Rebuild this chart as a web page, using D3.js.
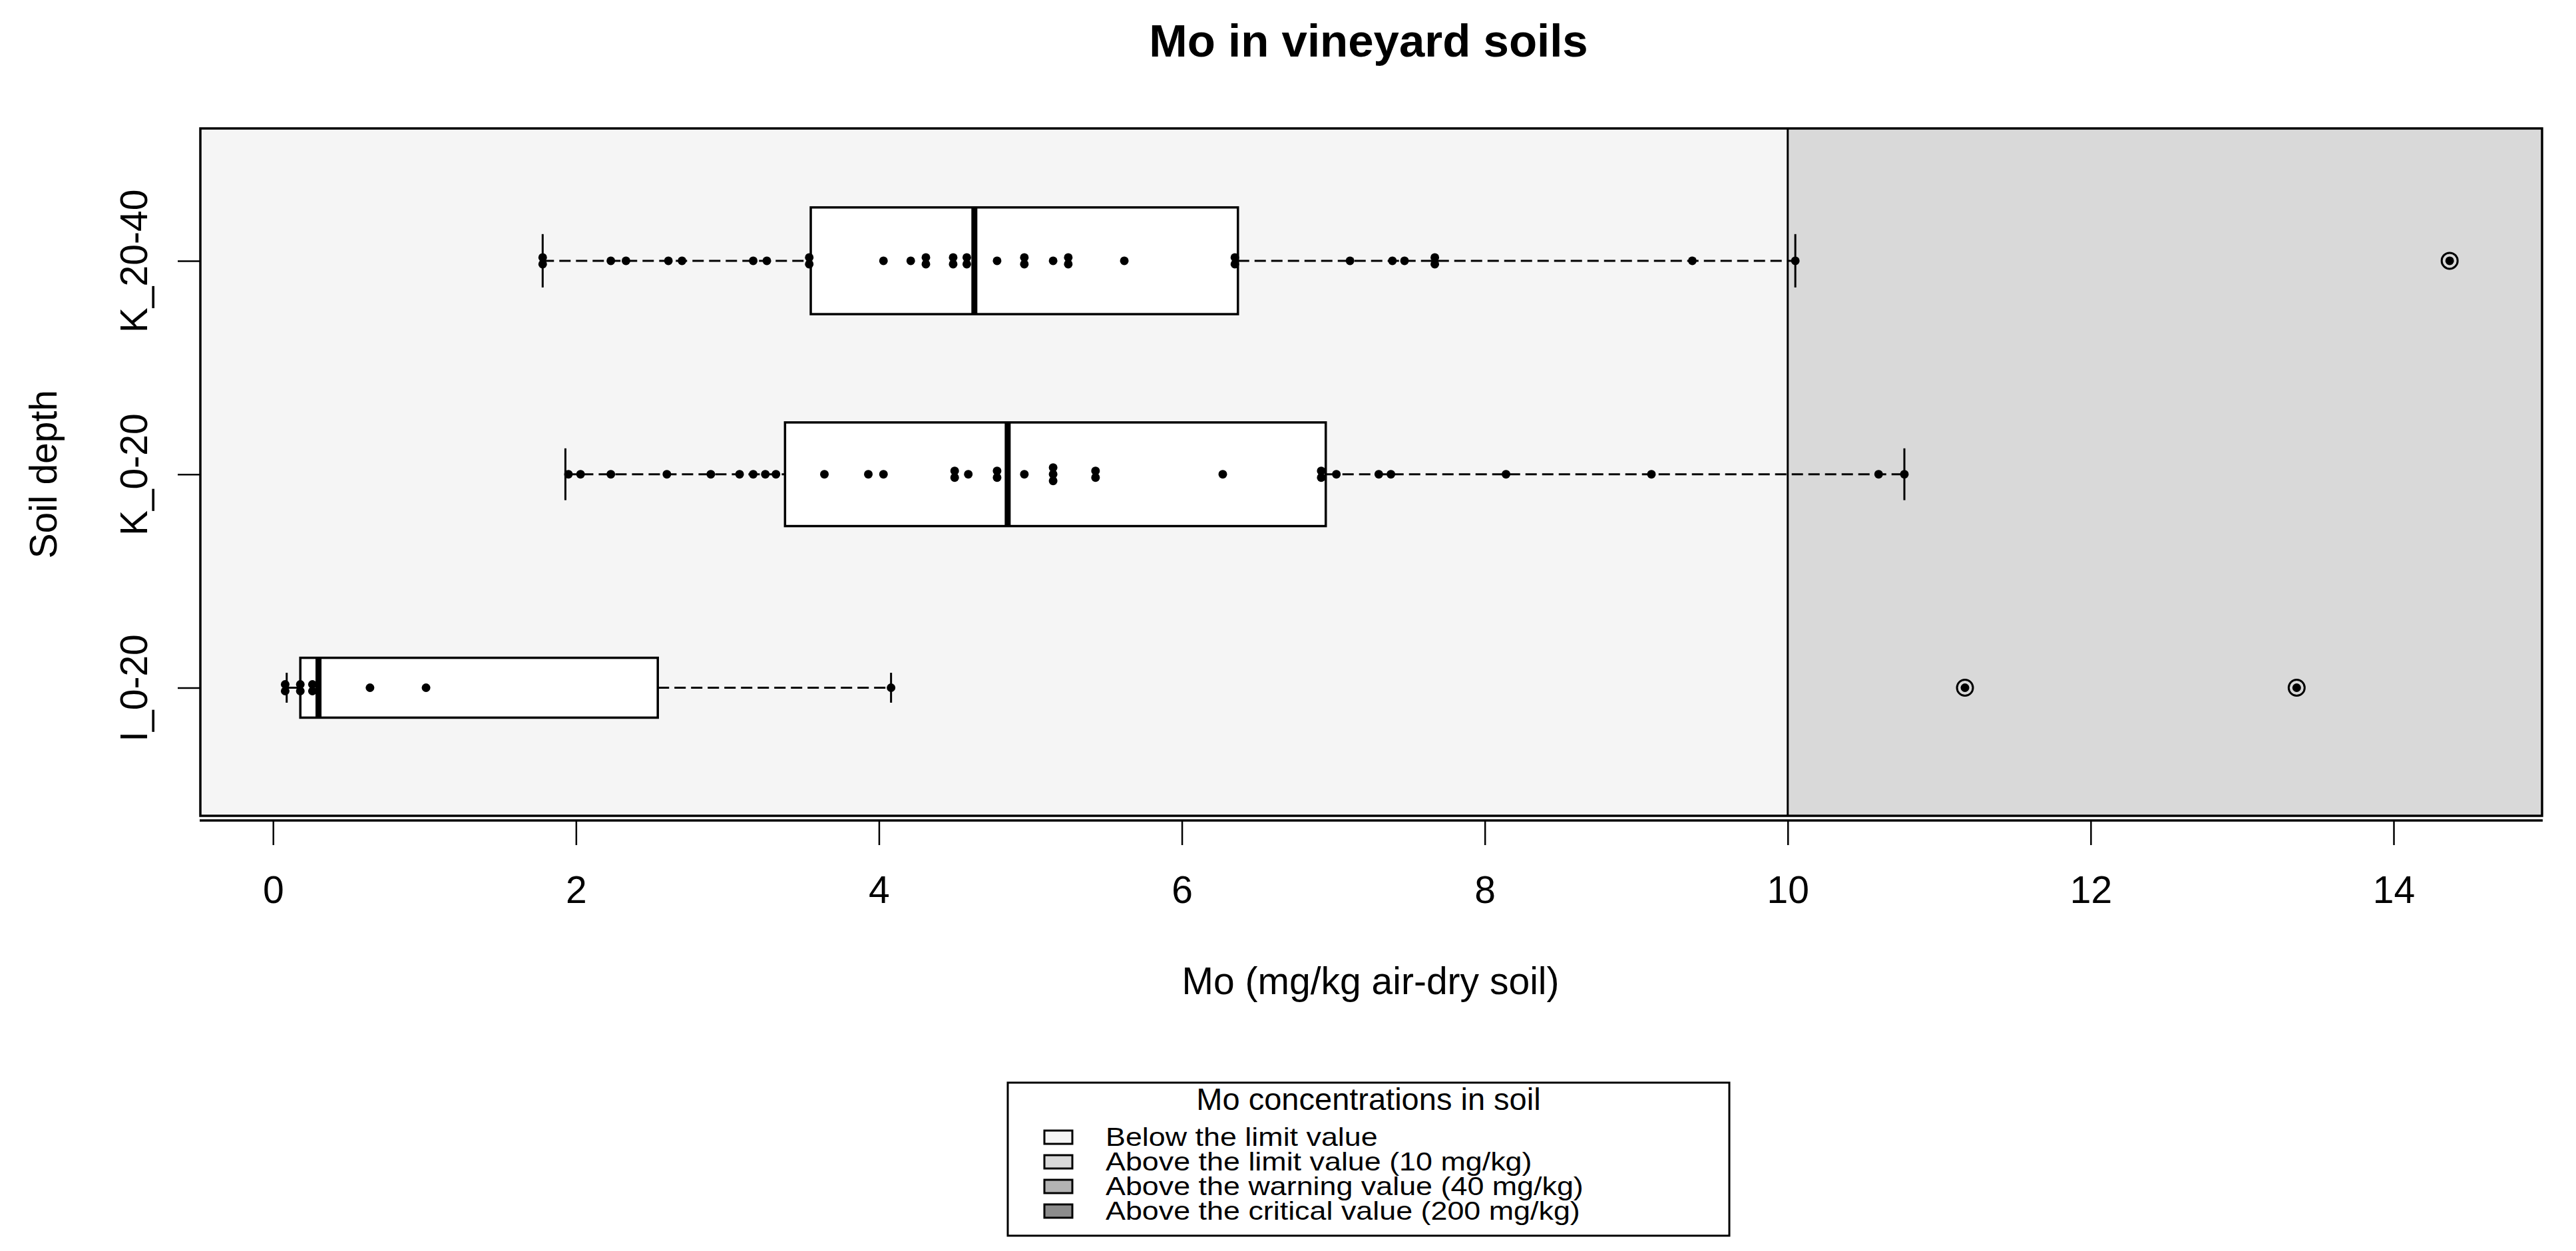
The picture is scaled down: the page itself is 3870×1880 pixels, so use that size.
<!DOCTYPE html>
<html>
<head>
<meta charset="utf-8">
<script src="https://cdn.jsdelivr.net/npm/d3@7"></script>
<style>
  html, body { margin: 0; padding: 0; background: #ffffff; }
  svg { display: block; }
  text { font-family: "Liberation Sans", Arial, sans-serif; fill: #000; }
</style>
</head>
<body>
<script>
// ---------------- DATA ----------------
const categories = ["I_0-20", "K_0-20", "K_20-40"];
const whiskerLow  = [0.09, 1.93, 1.78];
const q1          = [0.18, 3.38, 3.55];
const medians     = [0.30, 4.85, 4.63];
const q3          = [2.54, 6.95, 6.37];
const whiskerHigh = [4.08, 10.77, 10.05];
const outliers    = [[11.17, 13.36], [], [14.37]];

const pointsI020 = [0.08, 0.08, 0.18, 0.18, 0.26, 0.26, 0.64, 1.01, 4.08, 11.17, 13.36];
const pointsK020 = [1.95, 2.03, 2.23, 2.60, 2.89, 3.08, 3.17, 3.25, 3.32, 3.64, 3.93, 4.03,
                    4.50, 4.50, 4.59, 4.78, 4.78, 4.96, 5.15, 5.15, 5.15, 5.43, 5.43, 6.27,
                    6.92, 6.92, 7.02, 7.30, 7.38, 8.14, 9.10, 10.60, 10.77];
const pointsK2040 = [1.78, 1.78, 2.23, 2.33, 2.61, 2.70, 3.17, 3.26, 3.54, 3.54, 4.03, 4.21,
                     4.31, 4.31, 4.49, 4.49, 4.58, 4.58, 4.78, 4.96, 4.96, 5.15, 5.25, 5.25,
                     5.62, 6.35, 6.35, 7.11, 7.39, 7.47, 7.67, 7.67, 9.37, 10.05, 14.37];
const pointsByGroup = [pointsI020, pointsK020, pointsK2040];

const xTicks = [0, 2, 4, 6, 8, 10, 12, 14];
const limitValue = 10;

const titleText = "Mo in vineyard soils";
const xLabel = "Mo (mg/kg air-dry soil)";
const yLabel = "Soil depth";
const legendTitle = "Mo concentrations in soil";
const legendLabels = ["Below the limit value", "Above the limit value (10 mg/kg)",
                      "Above the warning value (40 mg/kg)", "Above the critical value (200 mg/kg)"];
const legendColors = ["#f5f5f5", "#d9d9d9", "#b3b3b3", "#8c8c8c"];

// ---------------- LAYOUT ----------------
const W = 3870, H = 1880;
const plot = { left: 301, right: 3819, top: 193, bottom: 1226 };

const svg = d3.select("body").append("svg").attr("width", W).attr("height", H);
svg.append("rect").attr("width", W).attr("height", H).attr("fill", "#fff");

const x = d3.scaleLinear().domain([-0.48, 14.98]).range([plot.left, plot.right]);
const y = d3.scaleLinear().domain([0.4, 3.62]).range([plot.bottom, plot.top]);

// backgrounds
svg.append("rect").attr("x", plot.left).attr("y", plot.top)
  .attr("width", x(limitValue) - plot.left).attr("height", plot.bottom - plot.top)
  .attr("fill", legendColors[0]);
svg.append("rect").attr("x", x(limitValue)).attr("y", plot.top)
  .attr("width", plot.right - x(limitValue)).attr("height", plot.bottom - plot.top)
  .attr("fill", legendColors[1]);
svg.append("line").attr("x1", x(limitValue)).attr("x2", x(limitValue))
  .attr("y1", plot.top).attr("y2", plot.bottom).attr("stroke", "#000").attr("stroke-width", 3);

// box widths (varwidth: proportional to sqrt(n))
const nMax = d3.max(pointsByGroup, p => p.length);
const halfW = pointsByGroup.map(p => 0.25 * Math.sqrt(p.length / nMax));

const g = svg.append("g");
categories.forEach((c, i) => {
  const pos = i + 1;
  const cy = y(pos);
  const hy = y(pos - halfW[i]) - cy; // half height in px
  // whiskers (dashed)
  g.append("line").attr("x1", x(whiskerLow[i])).attr("x2", x(q1[i]))
    .attr("y1", cy).attr("y2", cy).attr("stroke", "#000").attr("stroke-width", 3)
    .attr("stroke-dasharray", "17,8");
  g.append("line").attr("x1", x(q3[i])).attr("x2", x(whiskerHigh[i]))
    .attr("y1", cy).attr("y2", cy).attr("stroke", "#000").attr("stroke-width", 3)
    .attr("stroke-dasharray", "17,8");
  // caps
  [whiskerLow[i], whiskerHigh[i]].forEach(v => {
    g.append("line").attr("x1", x(v)).attr("x2", x(v))
      .attr("y1", cy - hy / 2).attr("y2", cy + hy / 2)
      .attr("stroke", "#000").attr("stroke-width", 3);
  });
  // box
  g.append("rect").attr("x", x(q1[i])).attr("y", cy - hy)
    .attr("width", x(q3[i]) - x(q1[i])).attr("height", 2 * hy)
    .attr("fill", "#fff").attr("stroke", "#000").attr("stroke-width", 3.5);
  // median
  g.append("line").attr("x1", x(medians[i])).attr("x2", x(medians[i]))
    .attr("y1", cy - hy).attr("y2", cy + hy)
    .attr("stroke", "#000").attr("stroke-width", 9);
  // outliers
  outliers[i].forEach(v => {
    g.append("circle").attr("cx", x(v)).attr("cy", cy).attr("r", 12)
      .attr("fill", "none").attr("stroke", "#000").attr("stroke-width", 3);
  });
  // points (stacked where duplicated)
  const counts = d3.rollup(pointsByGroup[i], v => v.length, d => d);
  const seen = new Map();
  pointsByGroup[i].forEach(v => {
    const k = seen.get(v) || 0;
    seen.set(v, k + 1);
    const n = counts.get(v);
    const off = (k - (n - 1) / 2) * 10;
    g.append("circle").attr("cx", x(v)).attr("cy", cy + off).attr("r", 6.5).attr("fill", "#000");
  });
});

// plot border
svg.append("rect").attr("x", plot.left).attr("y", plot.top)
  .attr("width", plot.right - plot.left).attr("height", plot.bottom - plot.top)
  .attr("fill", "none").attr("stroke", "#000").attr("stroke-width", 3.5);
svg.append("line").attr("x1", plot.left - 1).attr("x2", plot.right + 1)
  .attr("y1", 1233).attr("y2", 1233).attr("stroke", "#000").attr("stroke-width", 3.5);

// x axis
const xAxis = svg.append("g").attr("transform", "translate(0,1233)")
  .call(d3.axisBottom(x).tickValues(xTicks).tickSize(37).tickPadding(47).tickFormat(d3.format("d")));
xAxis.select(".domain").remove();
xAxis.selectAll(".tick line").attr("stroke-width", 2.5);
xAxis.selectAll("text").attr("font-size", 57).style("font-family", "'Liberation Sans', Arial, sans-serif");

// y axis
const yAxis = svg.append("g").attr("transform", `translate(${plot.left},0)`)
  .call(d3.axisLeft(y).tickValues([1, 2, 3]).tickSize(34).tickFormat(d => categories[d - 1]));
yAxis.select(".domain").remove();
yAxis.selectAll(".tick line").attr("stroke-width", 2.5);
yAxis.selectAll("text")
  .attr("x", 0).attr("dy", 0).attr("y", 0)
  .attr("transform", "translate(-80,0) rotate(-90)")
  .attr("text-anchor", "middle")
  .attr("font-size", 57).style("font-family", "'Liberation Sans', Arial, sans-serif");

// titles
svg.append("text").attr("x", (plot.left + plot.right) / 2 - 4).attr("y", 85)
  .attr("text-anchor", "middle").attr("font-size", 69).attr("font-weight", "bold").text(titleText);
svg.append("text").attr("x", 2059).attr("y", 1494)
  .attr("text-anchor", "middle").attr("font-size", 57).text(xLabel);
svg.append("text").attr("transform", `translate(85,${(y(1) + y(3)) / 2}) rotate(-90)`)
  .attr("text-anchor", "middle").attr("font-size", 57).text(yLabel);

// legend
const lg = svg.append("g");
lg.append("rect").attr("x", 1514).attr("y", 1627).attr("width", 1084).attr("height", 230)
  .attr("fill", "#fff").attr("stroke", "#000").attr("stroke-width", 3);
lg.append("text").attr("x", 2056).attr("y", 1668).attr("text-anchor", "middle")
  .attr("font-size", 47).text(legendTitle);
legendLabels.forEach((lab, i) => {
  const by = 1722 + i * 37;
  lg.append("rect").attr("x", 1569).attr("y", by - 23).attr("width", 42).attr("height", 20)
    .attr("fill", legendColors[i]).attr("stroke", "#000").attr("stroke-width", 3);
  lg.append("text").attr("transform", `translate(1661,${by}) scale(1.15,1)`)
    .attr("font-size", 39).text(lab);
});
</script>
</body>
</html>
